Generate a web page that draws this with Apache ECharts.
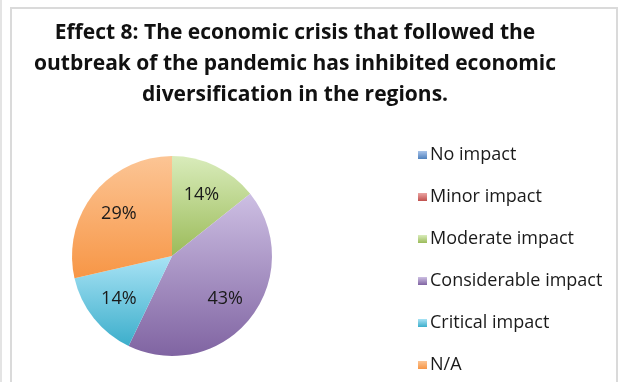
<!DOCTYPE html>
<html>
<head>
<meta charset="utf-8">
<script src="https://cdn.jsdelivr.net/npm/echarts@6/dist/echarts.min.js"></script>
<style>
  html, body { margin: 0; padding: 0; background: #ffffff; }
  #chart { width: 621px; height: 382px; }
</style>
</head>
<body>
<div id="chart"></div>
<script>
// Survey answers: number of responses per impact level
const categories = ['No impact', 'Minor impact', 'Moderate impact', 'Considerable impact', 'Critical impact', 'N/A'];
const responses = [0, 0, 1, 3, 1, 2];

// Theme colours: light top shade and full bottom shade for each slice
const topShades = ['#a9c4ea', '#eba5a3', '#d9ecbb', '#cdbfe3', '#a9e3f5', '#fcc595'];
const bottomShades = ['#4f81bd', '#c0504d', '#9bbb59', '#8064a2', '#3caecb', '#f79646'];

const fontFamily = 'Open Sans, Noto Sans, sans-serif';

function shade(i) {
  return new echarts.graphic.LinearGradient(0, 0, 0, 1, [
    { offset: 0, color: topShades[i] },
    { offset: 1, color: bottomShades[i] }
  ]);
}

const sliceData = categories.map((name, i) => ({
  name: name,
  value: responses[i],
  itemStyle: { color: shade(i) }
}));

const labelData = categories.map((name, i) => ({
  name: name,
  value: responses[i]
}));

const chart = echarts.init(document.getElementById('chart'), null, { renderer: 'canvas' });

chart.setOption({
  backgroundColor: '#ffffff',
  animation: false,
  title: {
    text: 'Effect 8: The economic crisis that followed the\noutbreak of the pandemic has inhibited economic\ndiversification in the regions.',
    left: 290,
    top: 13,
    textAlign: 'center',
    textStyle: {
      fontFamily: fontFamily,
      fontSize: 21,
      fontWeight: 'bold',
      color: '#111111',
      lineHeight: 31
    }
  },
  legend: {
    orient: 'vertical',
    left: 413,
    top: 140,
    height: 240,
    icon: 'rect',
    itemWidth: 9,
    itemHeight: 8,
    itemGap: 22,
    selectedMode: false,
    data: categories,
    textStyle: {
      fontFamily: fontFamily,
      fontSize: 18,
      color: '#1a1a1a',
      lineHeight: 20,
      padding: [0, 0, 0, -2]
    }
  },
  graphic: [
    {
      type: 'rect',
      shape: { x: 11, y: 8, width: 606, height: 390 },
      style: { fill: 'none', stroke: '#dadada', lineWidth: 2 },
      silent: true
    },
    {
      type: 'line',
      shape: { x1: 1, y1: 0, x2: 1, y2: 382 },
      style: { stroke: '#e4e4e4', lineWidth: 2 },
      silent: true
    }
  ],
  series: [
    {
      type: 'pie',
      center: [172, 256],
      radius: [0, 100],
      startAngle: 90,
      clockwise: true,
      silent: true,
      label: { show: false },
      labelLine: { show: false },
      itemStyle: { borderWidth: 0 },
      data: sliceData
    },
    {
      // transparent ring carrying the percentage labels a bit further out
      type: 'pie',
      center: [172, 256],
      radius: [0, 130],
      startAngle: 90,
      clockwise: true,
      silent: true,
      legendHoverLink: false,
      itemStyle: { color: 'rgba(0,0,0,0)', borderWidth: 0 },
      label: {
        show: true,
        position: 'inside',
        fontFamily: fontFamily,
        fontSize: 18,
        color: '#1a1a1a',
        formatter: p => (p.value > 0 ? Math.round(p.percent) + '%' : '')
      },
      labelLine: { show: false },
      data: labelData
    }
  ]
});
</script>
</body>
</html>
